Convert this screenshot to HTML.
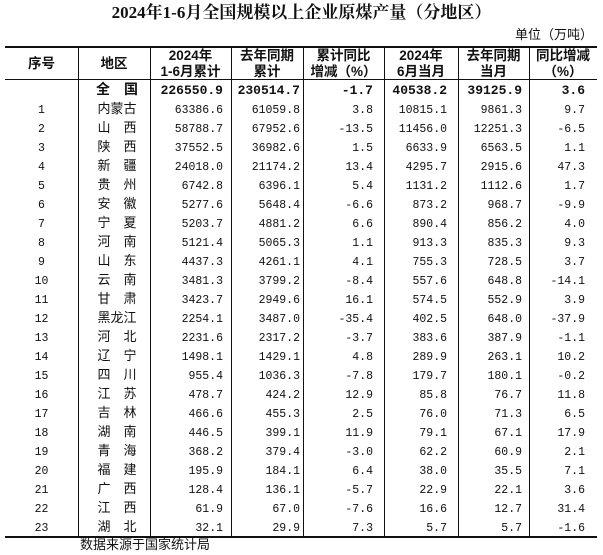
<!DOCTYPE html>
<html><head><meta charset="utf-8"><style>
body{margin:0;width:603px;height:555px;background:#fff;position:relative;overflow:hidden;font-family:"Liberation Mono","Noto Sans CJK SC",monospace;color:#111}
.t{position:absolute;left:0;width:603px;top:3px;text-align:center;font-family:"Liberation Serif","Noto Serif CJK SC",serif;font-weight:bold;font-size:17px;line-height:20px}
.u{position:absolute;left:515px;top:26px;font-family:"Liberation Sans","Noto Sans CJK SC",sans-serif;font-size:13px;line-height:18px}
.h{position:absolute;background:#111}
.r{position:absolute;left:5px;height:19px;line-height:19px;white-space:nowrap;font-size:11.5px}
.r span{display:inline-block;text-align:right;box-sizing:border-box}
.r span:nth-child(1){width:73px;text-align:center}
.r span:nth-child(2){width:72px;text-align:center;font-family:"Liberation Sans","Noto Sans CJK SC",sans-serif;font-size:13px;padding-left:6px}
.r span:nth-child(3){width:81px;padding-right:8px}
.r span:nth-child(4){width:72px;padding-right:3px}
.r span:nth-child(5){width:81px;padding-right:11px}
.r span:nth-child(6){width:74px;padding-right:11px}
.r span:nth-child(7){width:71px;padding-right:7px}
.r span:nth-child(8){width:68px;padding-right:12px}
.b{font-weight:bold;font-size:13px}
.b span:nth-child(2){font-weight:bold;font-size:14px}
.hd{position:absolute;top:48px;height:31px;font-family:"Liberation Sans","Noto Sans CJK SC",sans-serif;font-weight:bold;font-size:13.5px;line-height:15.5px;text-align:center;display:flex;align-items:center;justify-content:center}
.s{position:absolute;left:80px;top:537px;font-family:"Liberation Sans","Noto Sans CJK SC",sans-serif;font-size:13px;line-height:16px}
</style></head><body>
<div class="t">2024年1-6月全国规模以上企业原煤产量（分地区）</div>
<div class="u">单位（万吨）</div>
<div class="h" style="left:5px;top:46px;width:592px;height:2px"></div>
<div class="h" style="left:5px;top:79px;width:592px;height:1px"></div>
<div class="h" style="left:5px;top:536px;width:592px;height:1.5px"></div>
<div class="h" style="left:78px;top:47px;width:1px;height:490px"></div>
<div class="h" style="left:150px;top:47px;width:1px;height:490px"></div>
<div class="h" style="left:231px;top:47px;width:1px;height:490px"></div>
<div class="h" style="left:303px;top:47px;width:1px;height:490px"></div>
<div class="h" style="left:384px;top:47px;width:1px;height:490px"></div>
<div class="h" style="left:458px;top:47px;width:1px;height:490px"></div>
<div class="h" style="left:529px;top:47px;width:1px;height:490px"></div>
<div class="hd" style="left:5px;width:73px">序号</div>
<div class="hd" style="left:78px;width:72px">地区</div>
<div class="hd" style="left:150px;width:81px">2024年<br>1-6月累计</div>
<div class="hd" style="left:231px;width:72px">去年同期<br>累计</div>
<div class="hd" style="left:303px;width:81px">累计同比<br>增减（%）</div>
<div class="hd" style="left:384px;width:74px">2024年<br>6月当月</div>
<div class="hd" style="left:458px;width:71px">去年同期<br>当月</div>
<div class="hd" style="left:529px;width:68px">同比增减<br>（%）</div>
<div class="r b" style="top:80px"><span></span><span>全　国</span><span>226550.9</span><span>230514.7</span><span>-1.7</span><span>40538.2</span><span>39125.9</span><span>3.6</span></div>
<div class="r" style="top:99px"><span>1</span><span>内蒙古</span><span>63386.6</span><span>61059.8</span><span>3.8</span><span>10815.1</span><span>9861.3</span><span>9.7</span></div>
<div class="r" style="top:118px"><span>2</span><span>山　西</span><span>58788.7</span><span>67952.6</span><span>-13.5</span><span>11456.0</span><span>12251.3</span><span>-6.5</span></div>
<div class="r" style="top:137px"><span>3</span><span>陕　西</span><span>37552.5</span><span>36982.6</span><span>1.5</span><span>6633.9</span><span>6563.5</span><span>1.1</span></div>
<div class="r" style="top:156px"><span>4</span><span>新　疆</span><span>24018.0</span><span>21174.2</span><span>13.4</span><span>4295.7</span><span>2915.6</span><span>47.3</span></div>
<div class="r" style="top:175px"><span>5</span><span>贵　州</span><span>6742.8</span><span>6396.1</span><span>5.4</span><span>1131.2</span><span>1112.6</span><span>1.7</span></div>
<div class="r" style="top:194px"><span>6</span><span>安　徽</span><span>5277.6</span><span>5648.4</span><span>-6.6</span><span>873.2</span><span>968.7</span><span>-9.9</span></div>
<div class="r" style="top:213px"><span>7</span><span>宁　夏</span><span>5203.7</span><span>4881.2</span><span>6.6</span><span>890.4</span><span>856.2</span><span>4.0</span></div>
<div class="r" style="top:232px"><span>8</span><span>河　南</span><span>5121.4</span><span>5065.3</span><span>1.1</span><span>913.3</span><span>835.3</span><span>9.3</span></div>
<div class="r" style="top:251px"><span>9</span><span>山　东</span><span>4437.3</span><span>4261.1</span><span>4.1</span><span>755.3</span><span>728.5</span><span>3.7</span></div>
<div class="r" style="top:270px"><span>10</span><span>云　南</span><span>3481.3</span><span>3799.2</span><span>-8.4</span><span>557.6</span><span>648.8</span><span>-14.1</span></div>
<div class="r" style="top:289px"><span>11</span><span>甘　肃</span><span>3423.7</span><span>2949.6</span><span>16.1</span><span>574.5</span><span>552.9</span><span>3.9</span></div>
<div class="r" style="top:308px"><span>12</span><span>黑龙江</span><span>2254.1</span><span>3487.0</span><span>-35.4</span><span>402.5</span><span>648.0</span><span>-37.9</span></div>
<div class="r" style="top:327px"><span>13</span><span>河　北</span><span>2231.6</span><span>2317.2</span><span>-3.7</span><span>383.6</span><span>387.9</span><span>-1.1</span></div>
<div class="r" style="top:346px"><span>14</span><span>辽　宁</span><span>1498.1</span><span>1429.1</span><span>4.8</span><span>289.9</span><span>263.1</span><span>10.2</span></div>
<div class="r" style="top:365px"><span>15</span><span>四　川</span><span>955.4</span><span>1036.3</span><span>-7.8</span><span>179.7</span><span>180.1</span><span>-0.2</span></div>
<div class="r" style="top:384px"><span>16</span><span>江　苏</span><span>478.7</span><span>424.2</span><span>12.9</span><span>85.8</span><span>76.7</span><span>11.8</span></div>
<div class="r" style="top:403px"><span>17</span><span>吉　林</span><span>466.6</span><span>455.3</span><span>2.5</span><span>76.0</span><span>71.3</span><span>6.5</span></div>
<div class="r" style="top:422px"><span>18</span><span>湖　南</span><span>446.5</span><span>399.1</span><span>11.9</span><span>79.1</span><span>67.1</span><span>17.9</span></div>
<div class="r" style="top:441px"><span>19</span><span>青　海</span><span>368.2</span><span>379.4</span><span>-3.0</span><span>62.2</span><span>60.9</span><span>2.1</span></div>
<div class="r" style="top:460px"><span>20</span><span>福　建</span><span>195.9</span><span>184.1</span><span>6.4</span><span>38.0</span><span>35.5</span><span>7.1</span></div>
<div class="r" style="top:479px"><span>21</span><span>广　西</span><span>128.4</span><span>136.1</span><span>-5.7</span><span>22.9</span><span>22.1</span><span>3.6</span></div>
<div class="r" style="top:498px"><span>22</span><span>江　西</span><span>61.9</span><span>67.0</span><span>-7.6</span><span>16.6</span><span>12.7</span><span>31.4</span></div>
<div class="r" style="top:517px"><span>23</span><span>湖　北</span><span>32.1</span><span>29.9</span><span>7.3</span><span>5.7</span><span>5.7</span><span>-1.6</span></div>
<div class="s">数据来源于国家统计局</div>
</body></html>
